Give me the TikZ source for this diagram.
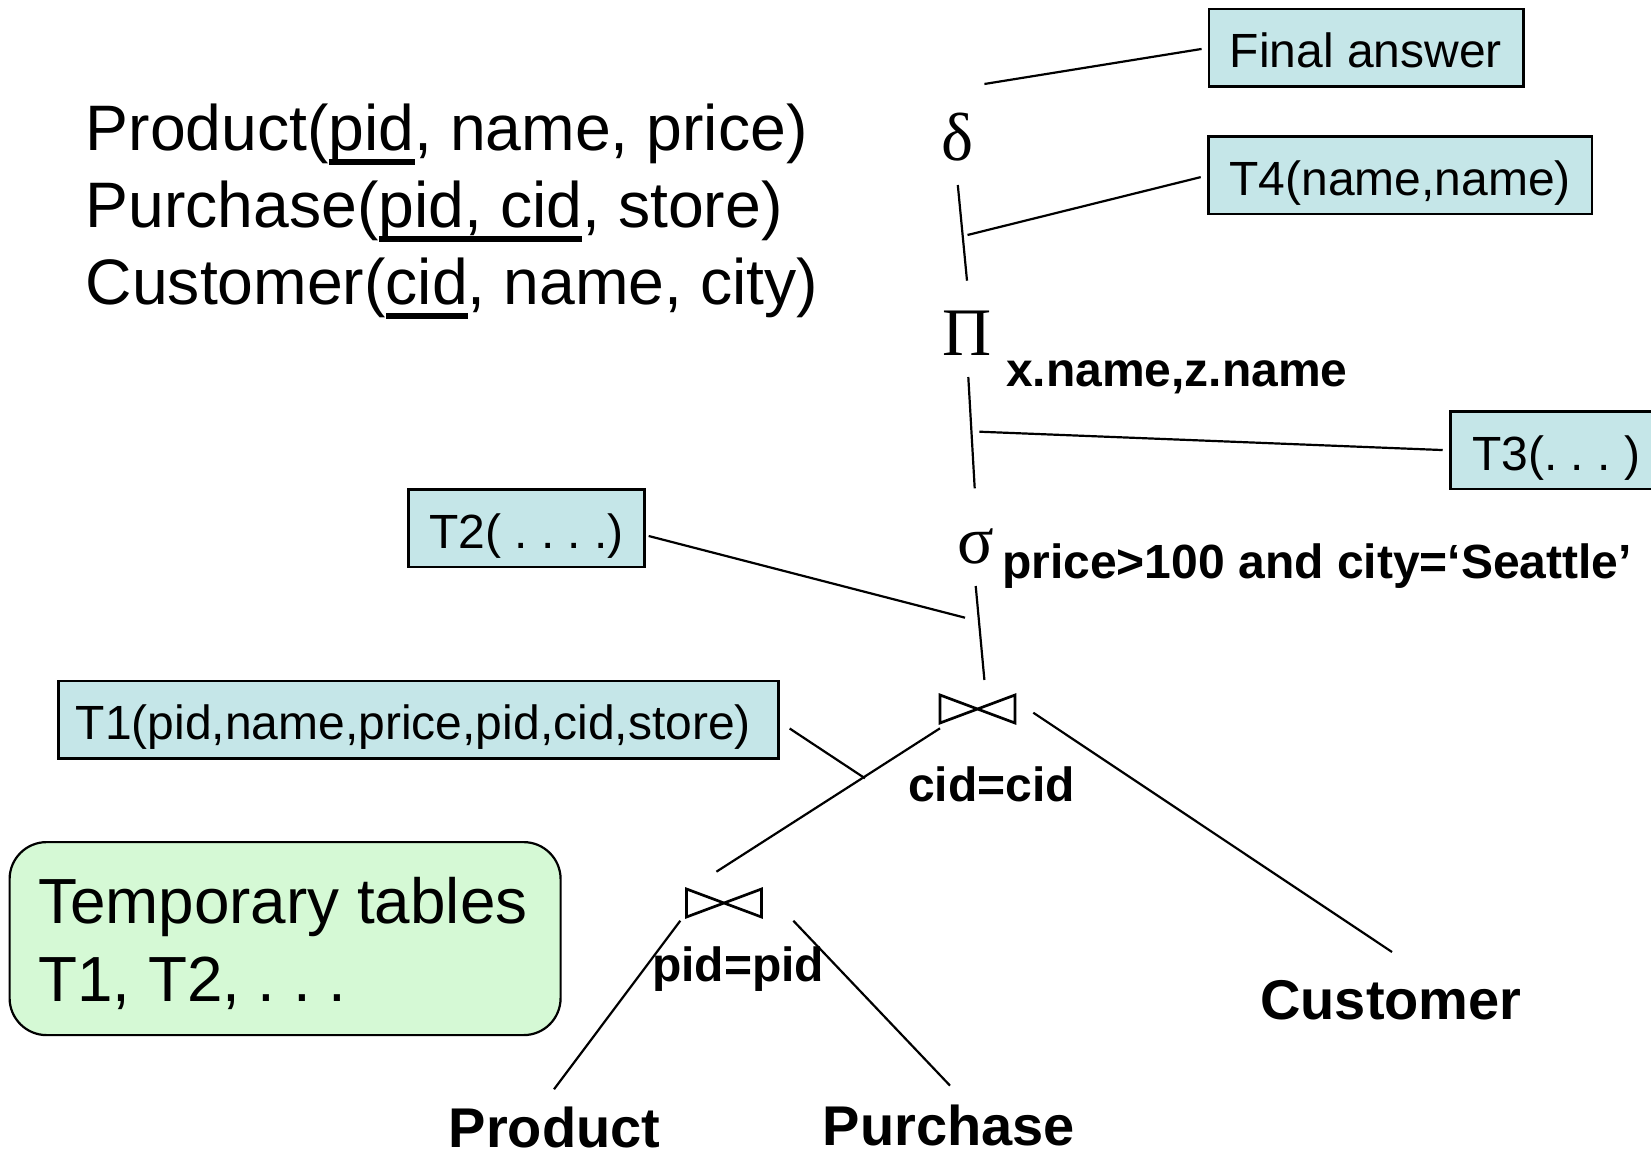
\documentclass[tikz,border=0pt]{standalone}
\usepackage{fontspec}
\setmainfont{Liberation Sans}
\newfontfamily\grk{Liberation Serif}
\definecolor{boxblue}{RGB}{197,230,232}
\definecolor{tmpgreen}{RGB}{213,249,213}
\newcommand\keyul[1]{\setbox0\hbox{#1}\rlap{\rule[-0.215em]{\wd0}{0.085em}}\box0}
\frenchspacing
\begin{document}
\begin{tikzpicture}[x=1pt,y=-1pt,
  conn/.style={line width=2.2pt},
  tbox/.style={draw, line width=2.5pt, fill=boxblue, font=\frenchspacing\fontsize{48}{58}\selectfont,
    text height=40pt, text depth=0pt, minimum height=77.5pt, inner ysep=0pt},
  schema/.style={anchor=base west, font=\fontsize{64.3}{77}\selectfont, inner sep=0pt},
  op/.style={anchor=base, font=\grk\fontsize{68}{80}\selectfont, inner sep=0pt},
  lbl/.style={font=\bfseries\fontsize{48}{57}\selectfont, inner sep=0pt},
  leaf/.style={anchor=base, font=\bfseries\fontsize{56}{67}\selectfont, inner sep=0pt},
  joinop/.style={minimum width=75pt, minimum height=28pt, inner sep=0pt, outer sep=0pt},
  bowtie/.style={line width=2.7pt, line join=miter},
  tmptext/.style={anchor=base west, font=\frenchspacing\fontsize{63.8}{78}\selectfont, inner sep=0pt}
]
\useasboundingbox (0,0) rectangle (1651,1158);
\clip (0,0) rectangle (1651,1158);

% schema
\node[schema] (s1) at (85.5,151) {Product(\keyul{pid}, name, price)};
\node[schema] (s2) at (85.5,228) {Purchase(\keyul{pid, cid}, store)};
\node[schema] (s3) at (85.5,305) {Customer(\keyul{cid}, name, city)};

% temp-table boxes
\node[tbox, minimum width=314.5pt, inner xsep=0pt] (final) at (1366,48) {Final answer};
\node[tbox, minimum width=383.5pt, inner xsep=0pt] (t4) at (1400.2,175.5) {T4(name,name)};
\node[tbox, anchor=west, inner xsep=22pt] (t3) at (1449,450.3) {T3(. . . )\kern60pt};
\node[tbox, minimum width=235.8pt, inner xsep=0pt] (t2) at (526.5,528) {T2( . . . .)};
\node[tbox, anchor=west, inner xsep=17.6pt] (t1) at (57,719.5) {T1(pid,name,price,pid,cid,store)\kern10pt};

% operators
\node[op] (delta) at (958,161) {δ};
\node[op] (proj) at (967.5,355) {Π};
\node[op] (sel) at (976,563) {σ};
\node[lbl, anchor=base west] (projlbl) at (1006,386) {x.name,z.name};
\node[lbl, anchor=base west] (sellbl) at (1002,578) {price>100 and city=‘Seattle’};

\node[joinop] (j1) at (977.5,709) {};
\draw[bowtie] (j1.north west) -- (j1.south east) -- (j1.north east) -- (j1.south west) -- cycle;
\node[lbl, anchor=base] (j1lbl) at (991.5,801) {cid=cid};

\node[joinop] (j2) at (724,903) {};
\draw[bowtie] (j2.north west) -- (j2.south east) -- (j2.north east) -- (j2.south west) -- cycle;
\node[lbl, anchor=base] (j2lbl) at (738,981) {pid=pid};

% leaves
\node[leaf, anchor=base west] (cust) at (1260,1019.5) {Customer};
\node[leaf] (prod) at (554.5,1147) {Product};
\node[leaf] (purch) at (949,1145) {Purchase};

% note box
\node[draw, line width=2.2pt, fill=tmpgreen, rounded corners=37pt, minimum width=551pt,
  minimum height=193pt, anchor=north west] (tmp) at (8.5,841) {};
\node[tmptext] (tmp1) at (38,923.3) {Temporary tables};
\node[tmptext] (tmp2) at (38,1001.7) {T1, T2, . . .};

% connector end points
\coordinate (dA) at (984.4,84);
\coordinate (dB) at (957.8,185);
\coordinate (pA) at (967,280.7);
\coordinate (t4tap) at (967.5,235);
\coordinate (pB) at (968.3,377);
\coordinate (sA) at (974.7,488.3);
\coordinate (t3tap) at (979.3,431.7);
\coordinate (sB) at (975.7,586);
\coordinate (jA) at (984.4,680);
\coordinate (t2tap) at (965,617.7);
\coordinate (t1tap) at (865,778.3);
\coordinate (j1sw) at (940,728.3);
\coordinate (j2n) at (716.4,871.7);
\coordinate (j1e) at (1033.3,712.7);
\coordinate (custn) at (1392,952);
\coordinate (j2sw) at (680.3,920.7);
\coordinate (prodn) at (554,1089.3);
\coordinate (j2se) at (793.3,920.7);
\coordinate (purchn) at (950,1085.6);

% connectors
\draw[conn, shorten >=6pt] (dA) -- (final.west);
\draw[conn] (dB) -- (pA);
\draw[conn, shorten >=6.7pt] (t4tap) -- (t4.west);
\draw[conn] (pB) -- (sA);
\draw[conn, shorten >=6.3pt] (t3tap) -- (t3.west);
\draw[conn] (sB) -- (jA);
\draw[conn] ([shift={(3,8)}]t2.east) -- (t2tap);
\draw[conn] ([shift={(10,9)}]t1.east) -- (t1tap);
\draw[conn] (j1sw) -- (j2n);
\draw[conn] (j1e) -- (custn);
\draw[conn] (j2sw) -- (prodn);
\draw[conn] (j2se) -- (purchn);
\end{tikzpicture}
\end{document}
